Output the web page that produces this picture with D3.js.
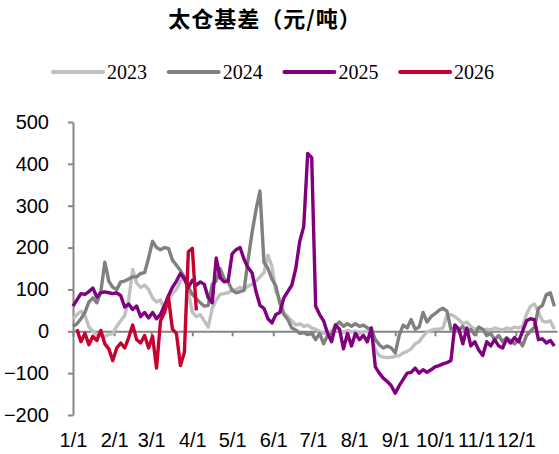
<!DOCTYPE html>
<html>
<head>
<meta charset="utf-8">
<script src="https://cdn.jsdelivr.net/npm/d3@7"></script>
<style>
  body { margin: 0; background: #fff; }
  svg { display: block; }
</style>
</head>
<body>
<svg id="chart" width="559" height="454"></svg>
<script>
// Taicang basis (yuan/ton), sampled every 3 days through the calendar year
const seriesNames = ["2023", "2024", "2025", "2026"];
const seriesColors = ["#c0c0c0", "#808080", "#800080", "#c8002d"];
const monthLabels = ["1/1", "2/1", "3/1", "4/1", "5/1", "6/1", "7/1", "8/1", "9/1", "10/1", "11/1", "12/1"];
const yTicks = [-200, -100, 0, 100, 200, 300, 400, 500];
const stepDays = 3;

const d2023 = [30, 40, 48, 38, 10, 0, -8, -10, -12, -8,
  -5, 12, 25, 38, 75, 148, 115, 105, 110, 100,
  80, 70, 75, 50, 75, 90, 100, 120, 130, 95,
  45, 35, 40, 25, 10, 55, 75, 88, 90, 92,
  98, 100, 105, 100, 108, 112, 120, 130, 140, 182,
  155, 95, 75, 45, 35, 25, 15, 18, 12, 15,
  8, 5, 0, -5, -2, 0, 5, 0, -3, 2,
  -2, 0, -5, -2, 0, -3, -45, -58, -62, -63,
  -62, -60, -58, -52, -48, -42, -30, -25, -12, -2,
  2, 5, 5, 8, 38, 40, 35, 28, 18, 22,
  12, 5, 8, 2, 5, 3, 8, 5, 3, 8,
  5, 10, 8, 12, 40, 60, 65, 45, 25, 22,
  25, 5];

const d2024 = [12, 18, 30, 45, 70, 80, 68, 95, 165, 120,
  105, 100, 118, 120, 125, 130, 130, 138, 140, 175,
  215, 200, 195, 200, 198, 170, 158, 145, 130, 105,
  88, 78, 68, 60, 62, 112, 120, 150, 125, 118,
  98, 92, 95, 98, 170, 235, 290, 335, 165, 150,
  125, 108, 67, 40, 28, 8, 3, -5, -3, -8,
  -5, -20, -5, -30, -10, -5, 15, 22, 12, 18,
  12, 18, 12, 15, 8, 5, -20, -32, -40, -35,
  -40, -52, -10, 15, 8, 28, 5, 10, 45, 22,
  35, 42, 50, 55, 48, 5, 8, 2, 12, -5,
  5, -8, 10, 5, -10, -5, -20, -10, -25, -15,
  -22, -30, -20, -35, -10, 0, 10, 55, 62, 88,
  92, 60];

const d2025 = [60, 75, 90, 88, 95, 103, 82, 92, 94, 92,
  90, 92, 85, 58, 65, 52, 60, 35, 45, 32,
  45, 30, 40, 62, 85, 105, 120, 138, 125, 105,
  122, 110, 118, 112, 80, 68, 175, 128, 118, 120,
  185, 195, 200, 172, 152, 140, 95, 62, 55, 30,
  20, 40, 45, 80, 95, 110, 150, 215, 250, 425,
  415, 60, 40, 25, -5, -25, 15, 5, -42, -5,
  -35, -5, -20, -10, -25, 8, -85, -100, -112, -120,
  -130, -148, -130, -115, -100, -98, -88, -100, -92, -98,
  -92, -85, -82, -78, -75, -70, 15, 5, -30, 8,
  -35, -25, -45, -58, -25, -35, -20, -35, -40, -18,
  -28, -15, -25, 0, 25, 30, 28, -20, -18, -28,
  -22, -35];

const d2026 = [null, 5, -25, -5, -32, -12, -22, 2, -30, -42,
  -70, -40, -28, -40, -15, 15, -20, -28, -10, -40,
  -12, -88, 25, 45, 80, 5, -5, -82, -50, 190,
  198, 50];

const seriesData = [d2023, d2024, d2025, d2026];

const svg = d3.select("#chart");
const yearStart = new Date(2001, 0, 1);
const yearEnd = new Date(2002, 0, 1);
const dates = d2023.map((_, i) => d3.timeDay.offset(yearStart, i * stepDays));
const monthDates = d3.timeMonth.range(yearStart, yearEnd);

const x = d3.scaleTime().domain([yearStart, yearEnd]).range([73, 557]);
const y = d3.scaleLinear().domain([-200, 500]).range([415, 122]);

const axisColor = "#868686";
const labelFont = "Liberation Sans, Arial, sans-serif";

// Title
svg.append("text")
  .attr("x", 265).attr("y", 27)
  .attr("text-anchor", "middle")
  .attr("font-family", "Noto Sans CJK SC, sans-serif")
  .attr("font-weight", "bold")
  .attr("font-size", 22)
  .attr("letter-spacing", 1)
  .attr("fill", "#000")
  .text("太仓基差（元/吨）");

// Legend
const legend = svg.append("g");
seriesNames.forEach((name, i) => {
  const lx = 53 + i * 115.7;
  legend.append("line")
    .attr("x1", lx).attr("x2", lx + 50)
    .attr("y1", 72).attr("y2", 72)
    .attr("stroke", seriesColors[i])
    .attr("stroke-width", 4)
    .attr("stroke-linecap", "round");
  legend.append("text")
    .attr("x", lx + 54).attr("y", 79)
    .attr("font-family", "Liberation Serif, Times New Roman, serif")
    .attr("font-size", 20)
    .attr("fill", "#000")
    .text(name);
});

// Y axis
const yAxis = svg.append("g")
  .attr("transform", "translate(73,0)")
  .call(d3.axisLeft(y).tickValues(yTicks).tickSize(5).tickSizeOuter(0).tickPadding(19));
yAxis.select(".domain").attr("stroke", axisColor).attr("stroke-width", 2);
yAxis.selectAll(".tick line").attr("stroke", axisColor).attr("stroke-width", 2);
yAxis.selectAll(".tick text")
  .attr("font-family", labelFont).attr("font-size", 20).attr("fill", "#000");

// X axis along the zero line, month labels at the bottom
const xAxis = svg.append("g")
  .attr("transform", `translate(0,${y(0)})`)
  .call(d3.axisBottom(x).tickValues(monthDates)
    .tickFormat((d, i) => monthLabels[i])
    .tickSize(5).tickSizeOuter(0).tickPadding(97));
xAxis.select(".domain").attr("stroke", axisColor).attr("stroke-width", 2);
xAxis.selectAll(".tick line").attr("stroke", axisColor).attr("stroke-width", 2);
xAxis.selectAll(".tick text")
  .attr("font-family", labelFont).attr("font-size", 20).attr("fill", "#000");

// Series lines
const line = d3.line()
  .defined(v => v != null)
  .x((v, i) => x(dates[i]))
  .y(v => y(v));

seriesData.forEach((vals, i) => {
  svg.append("path")
    .datum(vals)
    .attr("fill", "none")
    .attr("stroke", seriesColors[i])
    .attr("stroke-width", 3.4)
    .attr("stroke-linejoin", "round")
    .attr("d", line);
});
</script>
</body>
</html>
